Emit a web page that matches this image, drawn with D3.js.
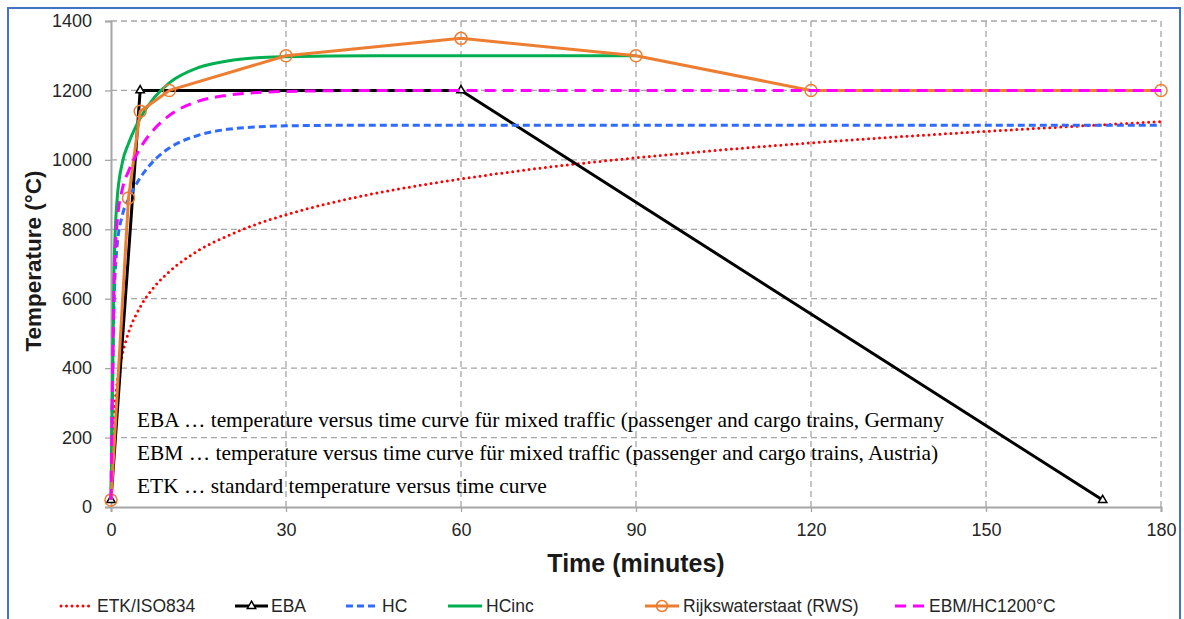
<!DOCTYPE html>
<html>
<head>
<meta charset="utf-8">
<script src="https://cdn.jsdelivr.net/npm/d3@7"></script>
<style>
  body { margin: 0; background: #fff; }
  svg { display: block; font-family: "Liberation Sans", Arial, sans-serif; }
</style>
</head>
<body>
<svg id="chart" width="1184" height="619"></svg>
<script>
// time values (minutes) for the smooth curves
const curveTimes = [0, 0.5, 1, 2, 3, 4, 5, 7.5, 10, 15, 20, 25, 30, 45, 60, 90, 120, 150, 180]

// ETK / ISO 834 standard curve
const etkTimes = [0, 0.25, 0.5, 1, 2, 3, 5, 7.5, 10, 15, 20, 25, 30, 40, 50, 60, 75, 90, 105, 120, 150, 180]
const etkValues = [20, 185, 261, 349, 444, 502, 576, 636, 678, 739, 781, 815, 842, 885, 918, 945, 979, 1006, 1029, 1049, 1082, 1110]

// hydrocarbon curves
const hcValues = [20, 568, 743, 844, 887, 920, 948, 1000, 1034, 1071, 1088, 1095, 1098, 1100, 1100, 1100, 1100, 1100, 1100]
const hcincValues = [20, 670, 877, 996, 1047, 1087, 1120, 1181, 1222, 1266, 1285, 1294, 1297, 1300, 1300, 1300]
const ebmValues = [20, 619, 810, 920, 967, 1003, 1034, 1090, 1128, 1169, 1186, 1194, 1197, 1200, 1200, 1200, 1200, 1200, 1200]

// piecewise-linear curves
const ebaTimes = [0, 5, 60, 120, 170]
const ebaValues = [20, 1200, 1200, 556, 20]
const ebaMarkerIdx = [0, 1, 2, 4]
const rwsTimes = [0, 3, 5, 10, 30, 60, 90, 120, 180]
const rwsValues = [20, 890, 1140, 1200, 1300, 1350, 1300, 1200, 1200]

const xTicks = [0, 30, 60, 90, 120, 150, 180]
const yTicks = [0, 200, 400, 600, 800, 1000, 1200, 1400]

const notes = [
  'EBA … temperature versus time curve für mixed traffic (passenger and cargo trains, Germany',
  'EBM … temperature versus time curve für mixed traffic (passenger and cargo trains, Austria)',
  'ETK … standard temperature versus time curve'
]

const svg = d3.select('#chart')

// outer frame
svg.append('rect')
  .attr('x', 8).attr('y', 8)
  .attr('width', 1172).attr('height', 620)
  .attr('fill', 'none')
  .attr('stroke', '#4472c4')
  .attr('stroke-width', 2)

const x = d3.scaleLinear().domain([0, 180]).range([111, 1161])
const y = d3.scaleLinear().domain([0, 1400]).range([507, 21])

const grey = '#a6a6a6'

// grid
svg.append('g').selectAll('line')
  .data(yTicks.filter(d => d > 0))
  .join('line')
  .attr('x1', x(0)).attr('x2', x(180))
  .attr('y1', d => y(d)).attr('y2', d => y(d))
  .attr('stroke', grey).attr('stroke-width', 1.3)
  .attr('stroke-dasharray', '6,4')

svg.append('g').selectAll('line')
  .data(xTicks.filter(d => d > 0))
  .join('line')
  .attr('x1', d => x(d)).attr('x2', d => x(d))
  .attr('y1', y(0)).attr('y2', y(1400))
  .attr('stroke', grey).attr('stroke-width', 1.3)
  .attr('stroke-dasharray', '6,4')

// axes
const yAxis = svg.append('g')
  .attr('transform', `translate(${x(0)},0)`)
  .call(d3.axisLeft(y).tickValues(yTicks).tickFormat(d3.format('d')).tickSize(6).tickPadding(13))
const xAxis = svg.append('g')
  .attr('transform', `translate(0,${y(0)})`)
  .call(d3.axisBottom(x).tickValues(xTicks).tickSize(5).tickPadding(11))

;[yAxis, xAxis].forEach(a => {
  a.select('.domain').attr('stroke', grey).attr('stroke-width', 2)
  a.selectAll('.tick line').attr('stroke', grey).attr('stroke-width', 1.3)
  a.selectAll('.tick text')
    .attr('font-family', '"Liberation Sans", Arial, sans-serif')
    .attr('font-size', 18)
    .attr('fill', '#262626')
})

// axis titles
svg.append('text')
  .attr('transform', 'translate(41,261) rotate(-90)')
  .attr('text-anchor', 'middle')
  .attr('font-size', 22.5).attr('font-weight', 'bold')
  .attr('fill', '#1a1a1a')
  .text('Temperature (°C)')

svg.append('text')
  .attr('x', 636).attr('y', 572)
  .attr('text-anchor', 'middle')
  .attr('font-size', 25).attr('font-weight', 'bold')
  .attr('fill', '#1a1a1a')
  .text('Time (minutes)')

// annotation text
svg.append('g').selectAll('text')
  .data(notes)
  .join('text')
  .attr('x', 137)
  .attr('y', (d, i) => 427 + i * 33)
  .attr('font-family', '"Liberation Serif", "Times New Roman", serif')
  .attr('font-size', 21.4)
  .attr('fill', '#000')
  .text(d => d)

// series
const pts = (times, vals) => vals.map((v, i) => [times[i], v])
const smooth = d3.line().x(d => x(d[0])).y(d => y(d[1])).curve(d3.curveMonotoneX)
const straight = d3.line().x(d => x(d[0])).y(d => y(d[1]))

const series = [
  { name: 'ETK/ISO834', color: '#ff0000', dash: '0,5.5', cap: 'round', width: 3, data: pts(etkTimes, etkValues), line: smooth },
  { name: 'EBA', color: '#000000', dash: null, cap: 'butt', width: 3, data: pts(ebaTimes, ebaValues), line: straight, marker: 'triangle' },
  { name: 'HC', color: '#2f6bff', dash: '7,4', cap: 'butt', width: 3, data: pts(curveTimes, hcValues), line: smooth },
  { name: 'HCinc', color: '#00b050', dash: null, cap: 'butt', width: 3, data: pts(curveTimes, hcincValues), line: smooth },
  { name: 'Rijkswaterstaat (RWS)', color: '#ed7d31', dash: null, cap: 'butt', width: 3, data: pts(rwsTimes, rwsValues), line: straight, marker: 'circle' },
  { name: 'EBM/HC1200°C', color: '#ff00ff', dash: '11,7', cap: 'butt', width: 3, data: pts(curveTimes, ebmValues), line: smooth }
]

const plot = svg.append('g')
series.forEach(s => {
  plot.append('path')
    .attr('d', s.line(s.data))
    .attr('fill', 'none')
    .attr('stroke', s.color)
    .attr('stroke-width', s.width)
    .attr('stroke-linecap', s.cap)
    .attr('stroke-linejoin', 'round')
    .attr('stroke-dasharray', s.dash)
  if (s.marker === 'circle') {
    plot.selectAll(null)
      .data(s.data)
      .join('circle')
      .attr('cx', d => x(d[0])).attr('cy', d => y(d[1]))
      .attr('r', 6)
      .attr('fill', 'none')
      .attr('stroke', s.color).attr('stroke-width', 1.5)
  }
  if (s.marker === 'triangle') {
    plot.selectAll(null)
      .data(ebaMarkerIdx.map(i => s.data[i]))
      .join('path')
      .attr('transform', d => `translate(${x(d[0])},${y(d[1])})`)
      .attr('d', d3.symbol(d3.symbolTriangle, 30))
      .attr('fill', '#fff')
      .attr('stroke', s.color).attr('stroke-width', 1.5)
  }
})

// legend
const legendItems = [
  { s: series[0], x0: 61, x1: 94, tx: 97 },
  { s: series[1], x0: 235, x1: 268, tx: 271 },
  { s: series[2], x0: 346, x1: 378, tx: 382 },
  { s: series[3], x0: 448, x1: 482, tx: 486 },
  { s: series[4], x0: 645, x1: 679, tx: 683 },
  { s: series[5], x0: 895, x1: 927, tx: 929 }
]
const ly = 606
const legend = svg.append('g')
legendItems.forEach(it => {
  const s = it.s
  legend.append('line')
    .attr('x1', it.x0).attr('x2', it.x1)
    .attr('y1', ly).attr('y2', ly)
    .attr('stroke', s.color).attr('stroke-width', s.width)
    .attr('stroke-linecap', s.cap)
    .attr('stroke-dasharray', s.dash)
  const cx = (it.x0 + it.x1) / 2
  if (s.marker === 'circle') {
    legend.append('circle').attr('cx', cx).attr('cy', ly).attr('r', 5.5)
      .attr('fill', 'none').attr('stroke', s.color).attr('stroke-width', 1.5)
  }
  if (s.marker === 'triangle') {
    legend.append('path').attr('transform', `translate(${cx},${ly})`)
      .attr('d', d3.symbol(d3.symbolTriangle, 30))
      .attr('fill', '#fff').attr('stroke', s.color).attr('stroke-width', 1.5)
  }
  legend.append('text')
    .attr('x', it.tx).attr('y', ly + 6)
    .attr('font-size', 17.5).attr('fill', '#262626')
    .text(s.name)
})
</script>
</body>
</html>
